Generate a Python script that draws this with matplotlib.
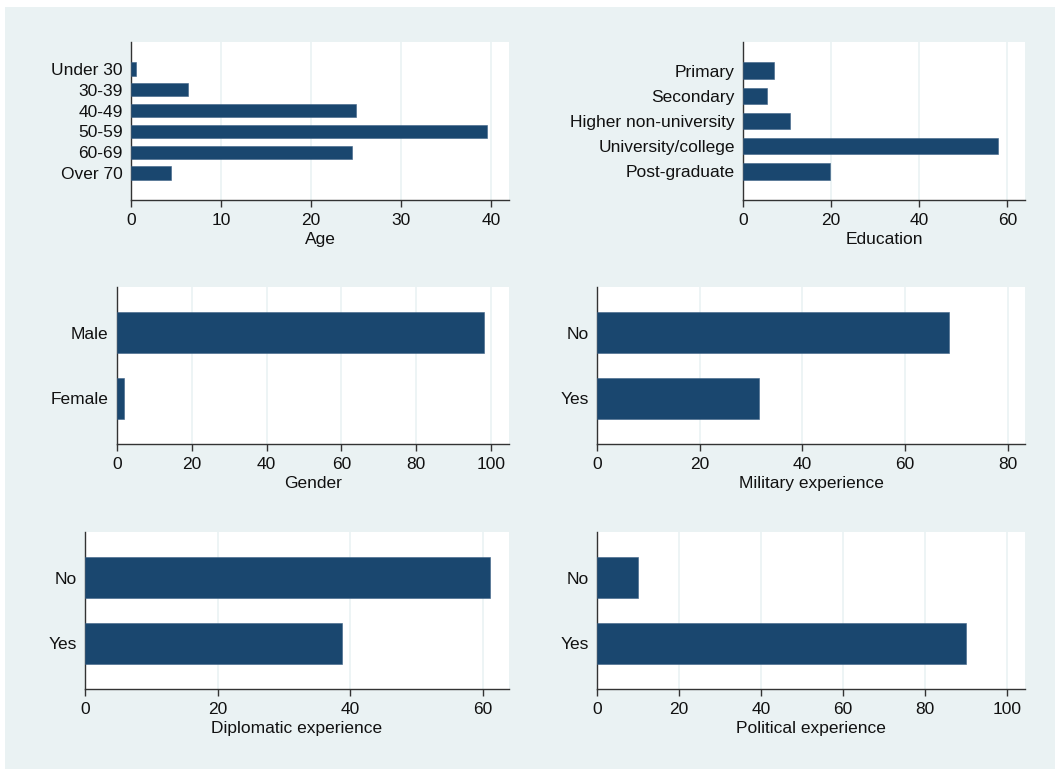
import matplotlib
matplotlib.use("Agg")
import matplotlib.pyplot as plt
import matplotlib.patches as patches
import numpy as np

plt.rcParams["font.family"] = ["Liberation Sans", "DejaVu Sans"]
plt.rcParams["font.size"] = 12.5

# --- data (percent of respondents) ---------------------------------------
age_cats = ["Under 30", "30-39", "40-49", "50-59", "60-69", "Over 70"]
age_vals = [0.6, 6.3, 25.0, 39.5, 24.5, 4.4]

edu_cats = ["Primary", "Secondary", "Higher non-university",
            "University/college", "Post-graduate"]
edu_vals = [7.0, 5.4, 10.7, 57.8, 19.8]

gender_cats = ["Male", "Female"]
gender_vals = [98.1, 1.9]

military_cats = ["No", "Yes"]
military_vals = [68.5, 31.5]

diplo_cats = ["No", "Yes"]
diplo_vals = [61.2, 38.8]

political_cats = ["No", "Yes"]
political_vals = [10.0, 90.0]

W, H = 1055, 769
BAR = "#1a476f"
BG = "#eaf2f3"

fig = plt.figure(figsize=(W / 100, H / 100), dpi=100, facecolor="white")
# light graph region behind all panels (small white margin top/left)
fig.add_artist(patches.Rectangle((5 / W, 0), 1, 1 - 7 / H,
                                 transform=fig.transFigure,
                                 facecolor=BG, edgecolor="none", zorder=-10))


def panel(box, cats, vals, xlabel, xmax, xticks, gap, height):
    """box = (left, top, right, bottom) in pixels from top-left."""
    l, t, r, b = box
    ax = fig.add_axes([l / W, 1 - b / H, (r - l) / W, (b - t) / H])
    ax.set_facecolor("white")
    pos = np.arange(len(cats))
    ax.barh(pos, vals, height=height, color=BAR, edgecolor="#3d6286",
            linewidth=0.4, zorder=3)
    ax.set_yticks(pos)
    ax.set_yticklabels(cats)
    ax.set_ylim(len(cats) - 1 + gap, -gap)
    ax.set_xlim(0, xmax)
    ax.set_xticks(xticks)
    ax.set_xticklabels([str(v) for v in xticks])
    for v in xticks[1:]:
        ax.axvline(v, color=BG, linewidth=1.2, zorder=1)
    for s in ("top", "right"):
        ax.spines[s].set_visible(False)
    for s in ("left", "bottom"):
        ax.spines[s].set_color("#333333")
        ax.spines[s].set_linewidth(1.0)
    ax.tick_params(axis="y", length=0, pad=6, labelcolor="#111111")
    ax.tick_params(axis="x", length=5, width=1.0, color="#333333", pad=4.5,
                   labelcolor="#111111")
    ax.set_xlabel(xlabel, labelpad=3, color="#111111")
    return ax


panel((131, 42, 509, 200), age_cats, age_vals, "Age", 42,
      [0, 10, 20, 30, 40], 1.3, 0.64)
panel((743, 42, 1025, 200), edu_cats, edu_vals, "Education", 64,
      [0, 20, 40, 60], 1.13, 0.65)
panel((117, 287, 509, 444), gender_cats, gender_vals, "Gender", 104.8,
      [0, 20, 40, 60, 80, 100], 0.69, 0.61)
panel((597, 287, 1025, 444), military_cats, military_vals,
      "Military experience", 83.4, [0, 20, 40, 60, 80], 0.69, 0.61)
panel((85, 532, 509, 689), diplo_cats, diplo_vals, "Diplomatic experience",
      64, [0, 20, 40, 60], 0.69, 0.61)
panel((597, 532, 1025, 689), political_cats, political_vals,
      "Political experience", 104.3, [0, 20, 40, 60, 80, 100], 0.69, 0.61)

fig.savefig("out.png", dpi=100, facecolor="white")
